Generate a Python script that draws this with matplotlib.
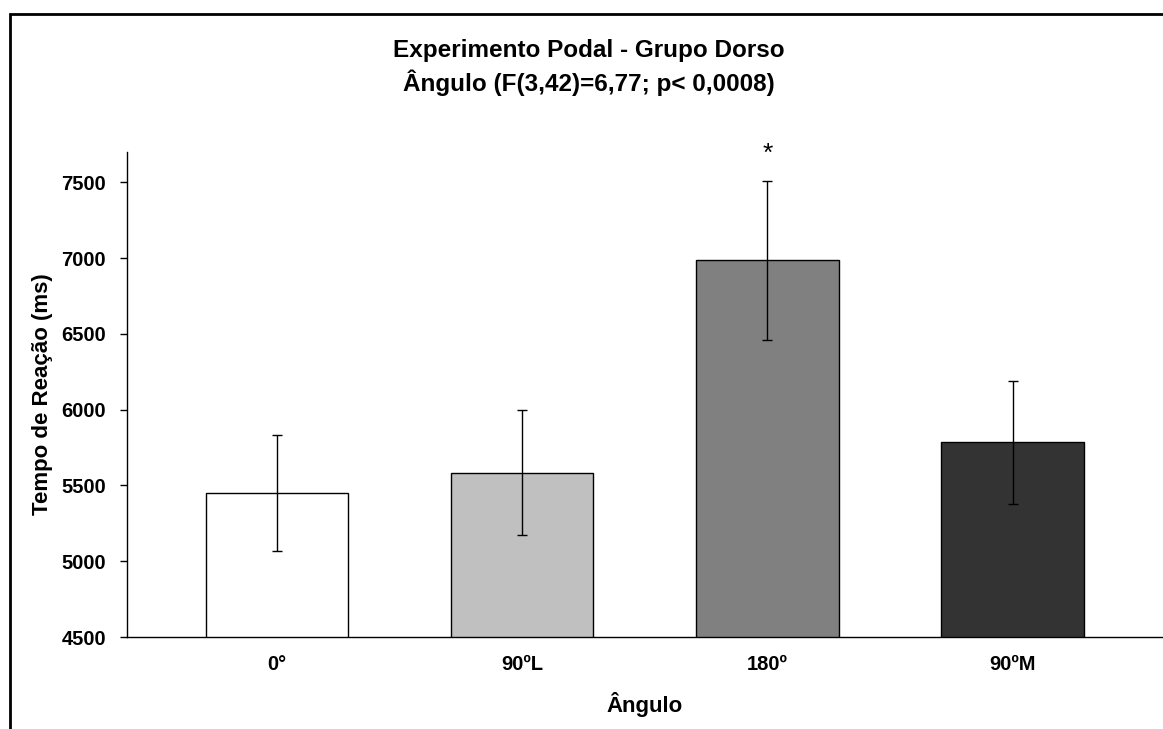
import matplotlib.pyplot as plt
from matplotlib.patches import Rectangle

plt.rcParams['font.family'] = ['Liberation Sans', 'DejaVu Sans']

angulos = ['0°', '90ºL', '180º', '90ºM']
tempo = [5450, 5585, 6985, 5785]
erro = [380, 410, 525, 405]
cores = ['#ffffff', '#c0c0c0', '#808080', '#333333']
yticks = [4500, 5000, 5500, 6000, 6500, 7000, 7500]

fig = plt.figure(figsize=(11.63, 7.29), dpi=100)
ax = fig.add_axes([0.1092, 0.1262, 0.8905, 0.6653])

x = list(range(len(angulos)))
ax.bar(x, tempo, width=0.58, color=cores, edgecolor='black', linewidth=1.0, zorder=2)
ax.errorbar(x, tempo, yerr=erro, fmt='none', ecolor='black', elinewidth=1.0,
            capsize=3.5, capthick=1.0, zorder=3)

ax.set_xlim(-0.612, 3.612)
ax.set_ylim(4500, 7700)
ax.set_yticks(yticks)
ax.set_yticklabels([str(v) for v in yticks], fontsize=14.5, fontweight='bold')
ax.set_xticks(x)
ax.set_xticklabels(angulos, fontsize=14.5, fontweight='bold')
ax.tick_params(axis='x', length=0, pad=13)
ax.tick_params(axis='y', length=5, width=1, direction='out', pad=10)

ax.spines['top'].set_visible(False)
ax.spines['right'].set_visible(False)
ax.spines['left'].set_linewidth(1)
ax.spines['bottom'].set_linewidth(1)

ax.set_xlabel('Ângulo', fontsize=16, fontweight='bold', labelpad=13)
ax.set_ylabel('Tempo de Reação (ms)', fontsize=16, fontweight='bold', labelpad=6)

ax.text(2, 7690, '*', ha='center', va='center', fontsize=19, clip_on=False)

fig.text(0.506, 0.931, 'Experimento Podal - Grupo Dorso', ha='center', va='center',
         fontsize=17.5, fontweight='bold')
fig.text(0.506, 0.887, 'Ângulo (F(3,42)=6,77; p< 0,0008)', ha='center', va='center',
         fontsize=17.5, fontweight='bold')

border = Rectangle((10 / 1163, -0.1), 1.2, 1.1 - 14 / 729, transform=fig.transFigure,
                   fill=False, edgecolor='black', linewidth=2)
fig.patches.append(border)

fig.savefig('out.png', dpi=100)
